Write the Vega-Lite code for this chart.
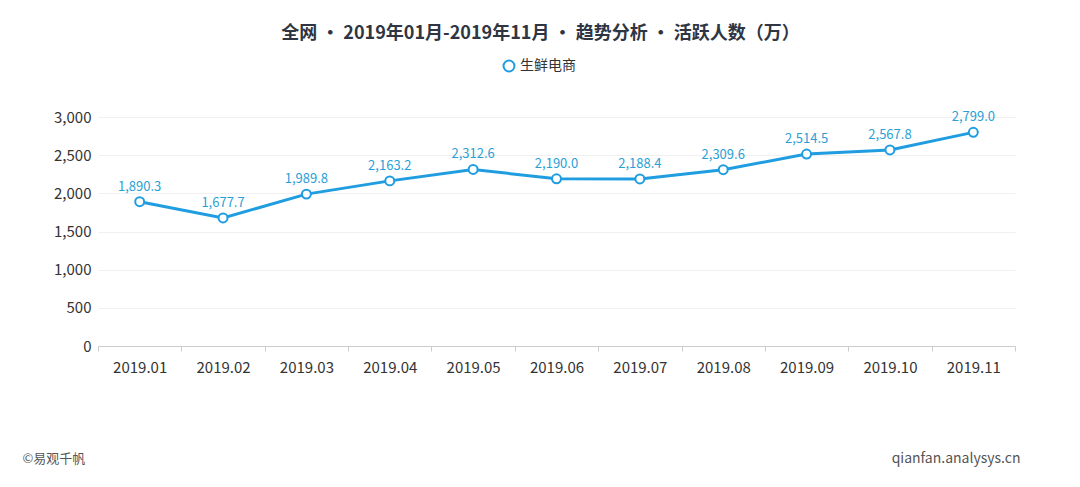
{
  "$schema": "https://vega.github.io/schema/vega-lite/v6.json",
  "width": 917,
  "height": 229,
  "autosize": "none",
  "padding": {"left": 98, "top": 117, "right": 65, "bottom": 141},
  "background": "white",
  "config": {
    "font": "Noto Sans CJK SC",
    "view": {"stroke": null}
  },
  "title": {
    "text": "全网 · 2019年01月-2019年11月 · 趋势分析 · 活跃人数（万）",
    "anchor": "middle",
    "dx": -16,
    "offset": 16,
    "fontSize": 18,
    "fontWeight": "bold",
    "color": "#2f3542"
  },
  "data": {
    "values": [
      {"month": "2019.01", "value": 1890.3, "series": "生鲜电商"},
      {"month": "2019.02", "value": 1677.7, "series": "生鲜电商"},
      {"month": "2019.03", "value": 1989.8, "series": "生鲜电商"},
      {"month": "2019.04", "value": 2163.2, "series": "生鲜电商"},
      {"month": "2019.05", "value": 2312.6, "series": "生鲜电商"},
      {"month": "2019.06", "value": 2190.0, "series": "生鲜电商"},
      {"month": "2019.07", "value": 2188.4, "series": "生鲜电商"},
      {"month": "2019.08", "value": 2309.6, "series": "生鲜电商"},
      {"month": "2019.09", "value": 2514.5, "series": "生鲜电商"},
      {"month": "2019.10", "value": 2567.8, "series": "生鲜电商"},
      {"month": "2019.11", "value": 2799.0, "series": "生鲜电商"}
    ]
  },
  "encoding": {
    "x": {
      "field": "month",
      "type": "ordinal",
      "scale": {"paddingInner": 0, "paddingOuter": 0},
      "axis": {
        "title": "qianfan.analysys.cn",
        "titleX": 922,
        "titleY": 112,
        "titleAlign": "right",
        "titleBaseline": "middle",
        "titleFontSize": 14,
        "titleFontWeight": "normal",
        "titleColor": "#555",
        "labelAngle": 0,
        "labelFontSize": 15,
        "labelColor": "#333",
        "labelPadding": 9,
        "domainColor": "#cccccc",
        "tickColor": "#cccccc",
        "tickSize": 5,
        "tickBand": "extent",
        "grid": false
      }
    },
    "y": {
      "field": "value",
      "type": "quantitative",
      "scale": {"domain": [0, 3000]},
      "axis": {
        "title": "©易观千帆",
        "titleAngle": 0,
        "titleX": -76,
        "titleY": 341,
        "titleAlign": "left",
        "titleBaseline": "middle",
        "titleFontSize": 13,
        "titleFontWeight": "normal",
        "titleColor": "#555",
        "values": [0, 500, 1000, 1500, 2000, 2500, 3000],
        "format": ",d",
        "labelFontSize": 15,
        "labelColor": "#333",
        "labelPadding": 7,
        "domain": false,
        "ticks": false,
        "gridColor": "#f0f0f0"
      }
    }
  },
  "layer": [
    {
      "mark": {"type": "line", "color": "#1f9de0", "strokeWidth": 3}
    },
    {
      "mark": {"type": "point", "filled": false, "fill": "white", "fillOpacity": 1, "size": 80, "strokeWidth": 2},
      "encoding": {
        "color": {
          "field": "series",
          "type": "nominal",
          "scale": {"range": ["#1f9de0"]},
          "legend": {
            "title": null,
            "orient": "none",
            "legendX": 404,
            "legendY": -58,
            "symbolType": "circle",
            "symbolSize": 120,
            "symbolStrokeWidth": 2,
            "symbolFillColor": "white",
            "labelFontSize": 14,
            "labelColor": "#333"
          }
        }
      }
    },
    {
      "mark": {"type": "text", "dy": -15, "fontSize": 13, "color": "#2a9fd6"},
      "encoding": {
        "text": {"field": "value", "type": "quantitative", "format": ",.1f"}
      }
    }
  ]
}
